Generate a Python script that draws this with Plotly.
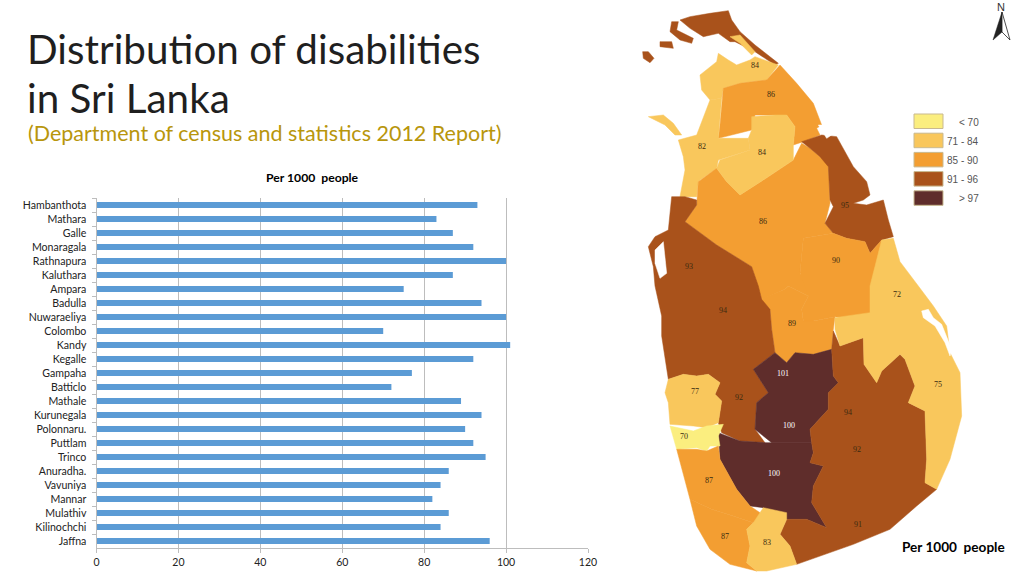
import plotly.graph_objects as go

W, H = 1024, 576

categories = ["Hambanthota", "Mathara", "Galle", "Monaragala", "Rathnapura", "Kaluthara", "Ampara", "Badulla",
              "Nuwaraeliya", "Colombo", "Kandy", "Kegalle", "Gampaha", "Batticlo", "Mathale", "Kurunegala",
              "Polonnaru.", "Puttlam", "Trinco", "Anuradha.", "Vavuniya", "Mannar", "Mulathiv", "Kilinochchi", "Jaffna"]
values = [93, 83, 87, 92, 100, 87, 75, 94, 100, 70, 101, 92, 77, 72, 89, 94, 90, 92, 95, 86, 84, 82, 86, 84, 96]
x_ticks = [0, 20, 40, 60, 80, 100, 120]

LIGHT, ORANGE, BROWN, DARK, YELLOW = "#F9C75C", "#F39E32", "#A9521B", "#5F2D2B", "#FBEE7F"
WHITE = "#FFFFFF"
legend_labels = ["< 70", "71 - 84", "85 - 90", "91 - 96", "> 97"]
legend_colors = [YELLOW, LIGHT, ORANGE, BROWN, DARK]


# Outline sketch of the map picture, in crop units (3 units = 1 pixel, origin x=640)
def T(*p):
    return list(p)


def B(*p):
    return [(x, y + 858) for x, y in p]


regions = [
    (BROWN, T((120, 60), (150, 50), (210, 40), (265, 32), (275, 60), (300, 95), (345, 135), (415, 190), (405, 195),
              (345, 155), (285, 125), (270, 125), (235, 100), (190, 110), (150, 85))),
    (BROWN, T((95, 65), (115, 65), (110, 90), (160, 115), (155, 130), (120, 120), (90, 95))),
    (BROWN, T((8, 155), (25, 155), (42, 175), (30, 188), (10, 175))),
    (BROWN, T((60, 125), (95, 125), (100, 145), (60, 140))),
    (LIGHT, T((180, 225), (230, 185), (235, 160), (265, 180), (290, 195), (330, 180), (345, 170), (415, 195),
              (380, 240), (300, 250), (250, 265), (245, 295), (210, 300), (185, 270))),
    (LIGHT, T((270, 110), (300, 105), (345, 155), (335, 165), (300, 130))),
    (ORANGE, T((420, 195), (470, 250), (520, 310), (545, 375), (530, 385), (540, 405), (490, 425), (460, 435),
               (465, 380), (440, 345), (410, 345), (345, 345), (335, 390), (235, 415), (240, 375), (250, 265),
               (300, 250), (380, 240))),
    (LIGHT, T((210, 300), (245, 295), (235, 415), (325, 415), (330, 450), (235, 480), (230, 505), (180, 540),
              (175, 545), (170, 590), (120, 590), (135, 510), (130, 470), (115, 420), (170, 405))),
    (LIGHT, T((25, 350), (70, 345), (100, 370), (125, 405), (105, 405), (75, 375))),
    (ORANGE, T((175, 545), (230, 505), (260, 545), (300, 585), (370, 540), (460, 480), (485, 430), (510, 445),
               (540, 470), (565, 490), (570, 610), (555, 670), (580, 700), (490, 715), (480, 820), (510, 860),
               (505, 888), (445, 858), (435, 868), (365, 898), (335, 800), (230, 735), (135, 665), (170, 615))),
    (LIGHT, T((335, 350), (405, 345), (440, 345), (465, 380), (460, 435), (460, 480), (370, 540),
              (300, 585), (260, 545), (230, 505), (240, 480), (330, 450), (325, 415), (335, 390))),
    (BROWN, T((485, 425), (545, 405), (590, 410), (640, 500), (680, 545), (690, 585), (670, 600), (640, 610),
              (680, 615), (730, 600), (745, 660), (760, 710), (725, 720), (690, 760), (675, 725),
              (620, 715), (580, 700), (555, 670), (580, 620), (570, 600), (565, 500), (540, 470), (510, 445))),
    (ORANGE, T((490, 715), (580, 700), (620, 715), (675, 725), (690, 760), (725, 720), (720, 855)) +
     B((690, 0), (690, 110), (585, 92), (520, 105), (490, 105), (485, 70), (505, 30), (480, -40))),
    (ORANGE, B((360, 40), (435, 10), (445, 0), (505, 30), (485, 70), (490, 105), (520, 105), (585, 92), (580, 130),
               (575, 190), (520, 205), (465, 200), (440, 230), (405, 200), (395, 130), (390, 70))),
    (BROWN, T((95, 590), (135, 590), (170, 600), (170, 615), (135, 665), (230, 735), (335, 800), (355, 858)) +
     B((365, 40), (390, 70), (395, 130), (405, 200), (340, 250), (385, 320), (350, 350), (345, 430), (375, 470),
       (300, 465), (245, 440), (235, 410), (245, 345), (225, 325), (240, 290), (205, 265), (170, 270), (130, 265),
       (85, 280), (65, 150), (65, 90), (45, 0)) + T((40, 800), (25, 740), (45, 710), (85, 690))),
    (WHITE, T((45, 750), (70, 725), (80, 820), (60, 835), (45, 790))),
    (DARK, B((340, 250), (405, 200), (440, 230), (465, 200), (520, 205), (575, 190), (580, 270), (595, 290),
             (565, 320), (565, 370), (510, 430), (515, 470), (395, 470), (345, 430), (350, 350), (385, 320))),
    (DARK, B((235, 440), (300, 465), (375, 470), (515, 470), (520, 500), (510, 530), (550, 540), (520, 600),
             (515, 650), (560, 725), (500, 700), (440, 700), (370, 665), (330, 660), (290, 610), (240, 520))),
    (BROWN, B((580, 135), (600, 180), (670, 155), (672, 235), (710, 290), (725, 255), (780, 205), (795, 220),
              (825, 300), (805, 350), (855, 375), (860, 520), (855, 590), (890, 610), (830, 660), (750, 730),
              (640, 775), (470, 835), (450, 780), (420, 745), (440, 700), (500, 700), (560, 725), (515, 650),
              (520, 600), (550, 540), (510, 530), (520, 500), (515, 470), (510, 430), (565, 370), (565, 320),
              (595, 290), (580, 270), (575, 190))),
    (LIGHT, T((725, 720), (760, 715), (780, 785), (835, 858)) +
     B((880, 60), (920, 120), (930, 200), (960, 260), (965, 390), (930, 520), (890, 610), (855, 590), (860, 520),
       (855, 375), (805, 350), (825, 300), (795, 220), (780, 205), (725, 255), (710, 290), (672, 235), (670, 155),
       (600, 180), (585, 130), (585, 95), (690, 80), (690, 0))),
    (WHITE, B((845, 75), (865, 70), (880, 95), (905, 115), (935, 190), (930, 210), (915, 170), (885, 120), (850, 95))),
    (WHITE, T((535, 375), (550, 375), (575, 405), (560, 415))),
    (LIGHT, B((85, 280), (130, 265), (170, 270), (205, 265), (240, 290), (225, 325), (245, 345), (235, 410),
              (200, 425), (160, 420), (90, 415), (85, 350), (75, 320))),
    (YELLOW, B((90, 420), (160, 435), (200, 420), (250, 415), (235, 450), (240, 480), (210, 480), (200, 495),
               (170, 485), (110, 490))),
    (ORANGE, B((110, 490), (170, 490), (200, 495), (235, 480), (240, 520), (290, 610), (330, 660), (360, 680),
               (365, 700), (340, 710), (280, 690), (215, 670), (150, 640))),
    (ORANGE, B((150, 640), (215, 670), (280, 690), (340, 710), (320, 730), (330, 780), (320, 830), (350, 855),
               (270, 835), (210, 790), (170, 720))),
    (LIGHT, B((340, 710), (370, 665), (440, 680), (440, 700), (420, 745), (450, 780), (470, 835), (380, 855),
              (350, 855), (320, 830), (330, 780), (320, 730))),
]

map_numbers = T(("84", 345, 195), ("86", 392, 283), ("82", 185, 440), ("84", 367, 458), ("86", 368, 665),
                ("90", 587, 780), ("93", 147, 800), ("95", 615, 618), ("72", 770, 883), ("94", 250, 930),
                ("89", 457, 971), ("101", 430, 1121), ("77", 165, 1175), ("92", 297, 1191), ("75", 893, 1153),
                ("94", 625, 1236), ("100", 448, 1276), ("70", 132, 1308), ("92", 652, 1348), ("100", 402, 1420),
                ("87", 208, 1440), ("87", 256, 1608), ("83", 380, 1628), ("91", 653, 1573))


def px(x):
    return x / W


def py(y):
    return 1 - y / H


def path(points):
    pts = [(640 + x / 3, y / 3) for x, y in points]
    return "M " + " L ".join(f"{px(x):.5f} {py(y):.5f}" for x, y in pts) + " Z"


shapes = []
for color, pts in regions:
    shapes.append(dict(type="path", xref="paper", yref="paper", path=path(pts), fillcolor=color,
                       line=dict(color=color, width=0.5)))

for i, c in enumerate(legend_colors):
    y0 = 114 + i * 19.2
    shapes.append(dict(type="rect", xref="paper", yref="paper", x0=px(914), x1=px(943), y0=py(y0), y1=py(y0 + 14.5),
                       fillcolor=c, line=dict(color="#C9B98F", width=1)))

# north arrow
shapes.append(dict(type="path", xref="paper", yref="paper",
                   path=f"M {px(1002)} {py(12)} L {px(993)} {py(40)} L {px(1002)} {py(32)} Z",
                   fillcolor="#222222", line=dict(color="#222222", width=0.5)))
shapes.append(dict(type="path", xref="paper", yref="paper",
                   path=f"M {px(1002)} {py(12)} L {px(1010)} {py(40)} L {px(1002)} {py(32)} Z",
                   fillcolor="#FFFFFF", line=dict(color="#222222", width=0.8)))


def note(text, x, y, size, color, family="Lato", xanchor="left", bold=False):
    return dict(text=f"<b>{text}</b>" if bold else text, x=px(x), y=py(y), xref="paper", yref="paper",
                xanchor=xanchor, yanchor="middle", showarrow=False, align="left", borderpad=0,
                font=dict(size=size, color=color, family=family))


annotations = [
    note("Distribution of disabilities", 26, 49, 40.4, "#1F1F1F"),
    note("in Sri Lanka", 26, 97, 40.4, "#1F1F1F"),
    note("(Department of census and statistics 2012 Report)", 27, 133, 21.5, "#B8960C"),
    note("Per 1000  people", 312, 177, 12.2, "#000000", xanchor="center", bold=True),
    note("Per 1000  people", 1006, 547, 13.6, "#000000", xanchor="right", bold=True),
    note("N", 1001, 7, 11, "#333333", "Liberation Sans", xanchor="center"),
]
for lab, i in zip(legend_labels, range(5)):
    annotations.append(note(lab, 980, 122 + i * 19.2, 10, "#555555", "Liberation Sans", xanchor="right"))
for t, x, y in map_numbers:
    annotations.append(note(t, 640 + x / 3, y / 3, 8, "#FFFFFF" if t in ("100", "101") else "#3A2A10",
                            "Liberation Serif", xanchor="center"))

fig = go.Figure(go.Bar(y=categories, x=values, orientation="h", marker=dict(color="#5B9BD5", line_width=0),
                       width=0.43))
fig.update_layout(
    width=W, height=H, margin=dict(l=0, r=0, t=0, b=0, autoexpand=False), paper_bgcolor="white", plot_bgcolor="white",
    showlegend=False, shapes=shapes, annotations=annotations, font=dict(family="Lato", size=11, color="#222222"),
    xaxis=dict(domain=[px(96.5), px(588)], range=[0, 120], tickvals=x_ticks, showgrid=True, gridcolor="#BDBDBD",
               gridwidth=1, zeroline=False, showline=True, linecolor="#BDBDBD", ticks="outside", ticklen=4,
               tickcolor="#BDBDBD", ticklabelstandoff=0, tickfont=dict(size=10.5, family="Lato")),
    yaxis=dict(domain=[py(548), py(198)], autorange="reversed", type="category", tickson="boundaries",
               showgrid=False, showline=True, linecolor="#BDBDBD", ticks="outside", ticklen=4, tickcolor="#BDBDBD",
               ticklabelstandoff=7, tickfont=dict(size=10.6, family="Lato")),
)
fig.write_html("out.html", config=dict(displayModeBar=False), post_script="document.body.style.margin='0';")
